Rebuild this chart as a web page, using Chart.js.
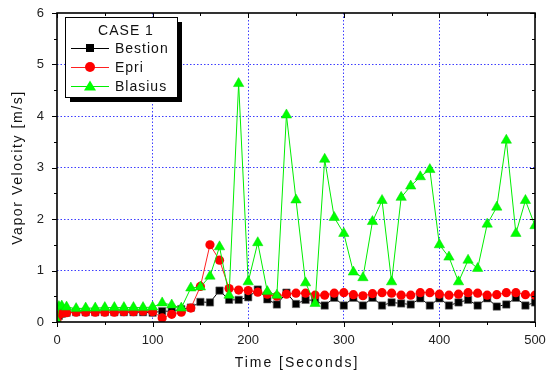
<!DOCTYPE html>
<html>
<head>
<meta charset="utf-8">
<script src="https://cdn.jsdelivr.net/npm/chart.js"></script>
<style>
  body { margin: 0; background: #fff; }
  canvas { display: block; }
</style>
</head>
<body>
<canvas id="chart" width="551" height="372"></canvas>
<script>
// time in seconds
const times = [0, 2, 5, 10, 20, 30, 40, 50, 60, 70, 80, 90, 100,
  110, 120, 130, 140, 150, 160, 170, 180, 190, 200,
  210, 220, 230, 240, 250, 260, 270, 280, 290, 300,
  310, 320, 330, 340, 350, 360, 370, 380, 390, 400,
  410, 420, 430, 440, 450, 460, 470, 480, 490, 500];

const bestion = [0.03, 0.12, 0.16, 0.18, 0.19, 0.19, 0.19, 0.19, 0.19, 0.19, 0.19, 0.19, 0.18,
  0.21, 0.21, 0.25, 0.28, 0.39, 0.38, 0.61, 0.43, 0.43, 0.48,
  0.63, 0.44, 0.34, 0.57, 0.35, 0.43, 0.42, 0.32, 0.47, 0.32,
  0.47, 0.32, 0.47, 0.32, 0.38, 0.36, 0.34, 0.46, 0.32, 0.46,
  0.32, 0.38, 0.43, 0.32, 0.46, 0.30, 0.34, 0.47, 0.32, 0.38];

const epri = [0.05, 0.14, 0.17, 0.18, 0.19, 0.19, 0.19, 0.19, 0.19, 0.20, 0.20, 0.21, 0.20,
  0.08, 0.15, 0.19, 0.27, 0.69, 1.50, 1.20, 0.65, 0.62, 0.61,
  0.58, 0.54, 0.50, 0.54, 0.56, 0.56, 0.52, 0.52, 0.56, 0.57,
  0.53, 0.51, 0.55, 0.57, 0.56, 0.52, 0.52, 0.57, 0.57, 0.54,
  0.52, 0.54, 0.57, 0.56, 0.52, 0.53, 0.57, 0.57, 0.53, 0.52];

const blasius = [0.02, 0.30, 0.31, 0.29, 0.26, 0.27, 0.27, 0.28, 0.28, 0.28, 0.28, 0.28, 0.29,
  0.37, 0.33, 0.27, 0.66, 0.68, 0.89, 1.46, 0.52, 4.63, 0.78,
  1.54, 0.59, 0.52, 4.02, 2.37, 0.76, 0.36, 3.16, 2.03, 1.72,
  0.97, 0.86, 1.95, 2.36, 0.78, 2.42, 2.64, 2.82, 2.96, 1.50,
  1.26, 0.78, 1.20, 1.04, 1.90, 2.23, 3.53, 1.72, 2.36, 1.87];

const xTicks = [0, 100, 200, 300, 400, 500];
const yTicks = [0, 1, 2, 3, 4, 5, 6];
const legendTitle = 'CASE 1';
const xTitle = 'Time [Seconds]';
const yTitle = 'Vapor Velocity [m/s]';

const toPoints = vals => vals.map((v, i) => ({ x: times[i], y: v }));
const gridBlue = '#3c3cff';
const fontFamily = '"Liberation Sans", Arial, sans-serif';

Chart.defaults.font.family = fontFamily;
Chart.defaults.color = '#222';

const datasets = [
  {
    label: 'Bestion', data: toPoints(bestion), order: 2,
    borderColor: '#000', backgroundColor: '#000', borderWidth: 1,
    pointStyle: 'rect', pointRadius: 5.2, pointBorderColor: '#666', pointBorderWidth: 0.6
  },
  {
    label: 'Epri', data: toPoints(epri), order: 1,
    borderColor: '#ff2020', backgroundColor: '#ff0000', borderWidth: 1,
    pointStyle: 'circle', pointRadius: 4.6, pointBorderColor: '#ff0000', pointBorderWidth: 0
  },
  {
    label: 'Blasius', data: toPoints(blasius), order: 0,
    borderColor: '#00ee00', backgroundColor: '#00ff00', borderWidth: 1,
    pointStyle: 'triangle', pointRadius: 6, pointBorderColor: '#00dd00', pointBorderWidth: 0.5
  }
];

// frame, minor ticks, axis titles and the boxed legend
const decorations = {
  id: 'decorations',
  afterDraw(chart) {
    const { ctx, chartArea: a, scales: { x, y } } = chart;
    ctx.save();
    ctx.strokeStyle = '#000';
    ctx.lineWidth = 1;
    ctx.beginPath();
    for (let v = 0; v <= 500; v += 50) {
      const px = Math.round(x.getPixelForValue(v)) + 0.5;
      const len = v % 100 === 0 ? 5 : 3;
      ctx.moveTo(px, a.bottom); ctx.lineTo(px, a.bottom + len);
      ctx.moveTo(px, a.top); ctx.lineTo(px, a.top + len);
    }
    for (let v = 0; v <= 6; v += 0.5) {
      const py = Math.round(y.getPixelForValue(v)) + 0.5;
      const len = v % 1 === 0 ? 5 : 3;
      ctx.moveTo(a.left, py); ctx.lineTo(a.left - len, py);
      ctx.moveTo(a.right, py); ctx.lineTo(a.right - len, py);
    }
    ctx.stroke();
    ctx.lineWidth = 1.6;
    ctx.strokeRect(a.left, a.top, a.right - a.left, a.bottom - a.top);

    // axis titles
    ctx.fillStyle = '#111';
    ctx.font = '14px ' + fontFamily;
    ctx.textAlign = 'center';
    ctx.textBaseline = 'middle';
    ctx.letterSpacing = '2px';
    ctx.fillText(xTitle, (a.left + a.right) / 2 + 1, 363);
    ctx.save();
    ctx.translate(18, (a.top + a.bottom) / 2);
    ctx.rotate(-Math.PI / 2);
    ctx.letterSpacing = '1.6px';
    ctx.fillText(yTitle, 0, 0);
    ctx.restore();

    // legend box with drop shadow
    const bx = 65, by = 17, bw = 112, bh = 80;
    ctx.fillStyle = '#000';
    ctx.fillRect(bx + 5, by + 5, bw, bh);
    ctx.fillStyle = '#fff';
    ctx.fillRect(bx, by, bw, bh);
    ctx.lineWidth = 1;
    ctx.strokeRect(bx + 0.5, by + 0.5, bw, bh);

    ctx.fillStyle = '#111';
    ctx.font = '14px ' + fontFamily;
    ctx.letterSpacing = '1px';
    ctx.textAlign = 'center';
    ctx.fillText(legendTitle, bx + 61, by + 14);
    ctx.textAlign = 'left';
    chart.data.datasets.forEach((ds, i) => {
      const ry = by + 31 + i * 19;
      ctx.strokeStyle = ds.borderColor;
      ctx.lineWidth = 1;
      ctx.beginPath();
      ctx.moveTo(bx + 6, ry + 0.5); ctx.lineTo(bx + 44, ry + 0.5);
      ctx.stroke();
      ctx.fillStyle = ds.backgroundColor;
      const cx = bx + 25;
      ctx.beginPath();
      if (ds.pointStyle === 'rect') {
        ctx.rect(cx - 4, ry - 4, 8, 8);
      } else if (ds.pointStyle === 'circle') {
        ctx.arc(cx, ry, 5, 0, Math.PI * 2);
      } else {
        ctx.moveTo(cx, ry - 5.5); ctx.lineTo(cx + 6, ry + 4.5); ctx.lineTo(cx - 6, ry + 4.5);
        ctx.closePath();
      }
      ctx.fill();
      ctx.fillStyle = '#111';
      ctx.fillText(ds.label, bx + 50, ry + 1);
    });
    ctx.restore();
  }
};

const noOverflow = s => {
  s.paddingTop = 0; s.paddingBottom = 0; s.paddingLeft = 0; s.paddingRight = 0;
};

new Chart(document.getElementById('chart'), {
  type: 'line',
  data: { datasets },
  options: {
    responsive: false,
    animation: false,
    layout: { padding: { left: 0, top: 13, right: 16, bottom: 0 } },
    plugins: { legend: { display: false }, tooltip: { enabled: false } },
    scales: {
      x: {
        type: 'linear', min: 0, max: 500,
        afterFit: s => { s.height = 50; noOverflow(s); },
        afterBuildTicks: s => { s.ticks = xTicks.map(v => ({ value: v })); },
        ticks: { padding: 11, font: { size: 13 }, color: '#222' },
        grid: {
          drawTicks: false,
          color: c => (c.tick && c.tick.value > 0 && c.tick.value < 500) ? gridBlue : 'transparent',
          lineWidth: 1
        },
        border: { display: false, dash: [1.5, 2] }
      },
      y: {
        min: 0, max: 6,
        afterFit: s => { s.width = 57; noOverflow(s); },
        afterBuildTicks: s => { s.ticks = yTicks.map(v => ({ value: v })); },
        ticks: { padding: 13, font: { size: 13 }, color: '#222' },
        grid: {
          drawTicks: false,
          color: c => (c.tick && c.tick.value > 0 && c.tick.value < 6) ? gridBlue : 'transparent',
          lineWidth: 1
        },
        border: { display: false, dash: [1.5, 2] }
      }
    }
  },
  plugins: [decorations]
});
</script>
</body>
</html>
